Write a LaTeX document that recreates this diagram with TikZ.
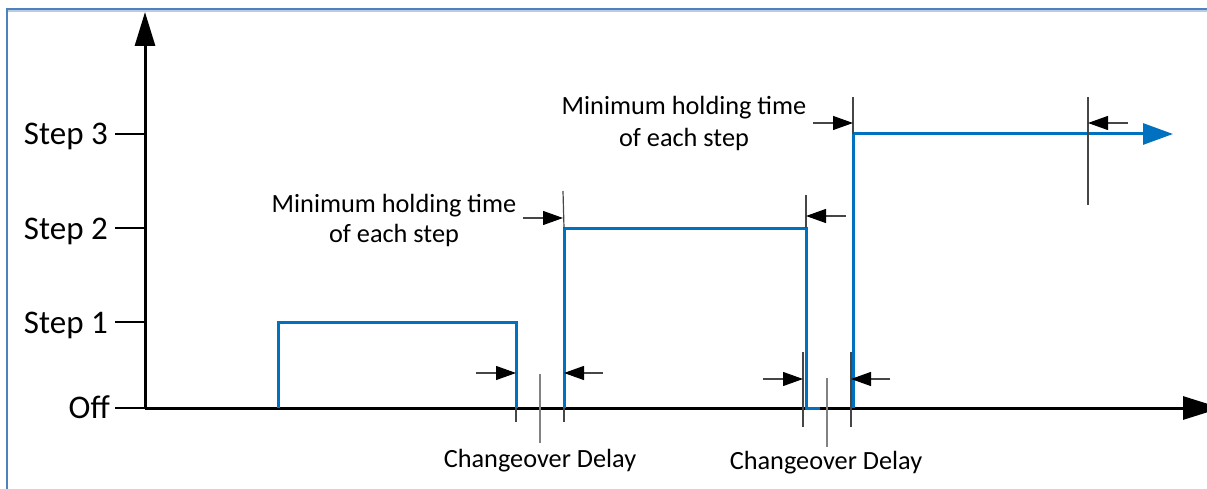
\documentclass[tikz,border=0pt]{standalone}
\usepackage{fontspec}
\setmainfont{Carlito}
\usetikzlibrary{arrows.meta}
\definecolor{frameblue}{RGB}{79,129,189}
\definecolor{framelight}{RGB}{184,204,228}
\definecolor{signal}{RGB}{0,112,192}
\definecolor{dimgray}{RGB}{70,70,70}
\definecolor{midgray}{RGB}{130,130,130}

\begin{document}
\begin{tikzpicture}[x=1pt,y=-1pt,
  axisline/.style={line width=3pt},
  tickline/.style={line width=2pt},
  signalline/.style={signal, line width=3pt},
  extline/.style={dimgray, line width=1.2pt},
  midline/.style={midgray, line width=1.5pt},
  dimarrow/.style={dimgray, line width=1.2pt,
    -{Triangle[length=20pt,width=14pt,color=black]}},
  levellabel/.style={font=\fontsize{33}{38}\selectfont, anchor=base east, inner sep=0pt},
  note/.style={font=\fontsize{26.3}{31}\selectfont, anchor=base, inner sep=0pt},
]
\useasboundingbox (0,0) rectangle (1207,489);

% frame
\draw[framelight, line width=1.5pt] (8,11) -- (1207,11);
\draw[frameblue, line width=2pt] (7,489) -- (7,9) -- (1207,9);

% axes
\coordinate (O) at (145,408);
\coordinate (ytop) at (145,12);
\coordinate (xend) at (1221,408);
\draw[axisline, -{Triangle[length=34pt,width=20pt]}] (O) -- (ytop);
\draw[axisline, -{Triangle[length=38pt,width=23pt]}] (O) -- (xend);

% level ticks and labels
\coordinate (s0) at (145,408);
\coordinate (s1) at (145,322);
\coordinate (s2) at (145,228);
\coordinate (s3) at (145,134);
\foreach \s in {s0,s1,s2,s3}
  \draw[tickline] (\s) -- ++(-30,0);
\node[levellabel] (loff) at (110,418) {Off};
\node[levellabel] (l1) at (108,333) {Step 1};
\node[levellabel] (l2) at (108,239) {Step 2};
\node[levellabel] (l3) at (108,145) {Step 3};

% switching signal
\coordinate (a0) at (278,408);
\coordinate (a1) at (278,322);
\coordinate (a2) at (516,322);
\coordinate (a3) at (516,408);
\coordinate (b0) at (564,408);
\coordinate (b1) at (564,228);
\coordinate (b2) at (806,228);
\coordinate (b3) at (806,408);
\coordinate (b4) at (820,408);
\coordinate (c0) at (853,408);
\coordinate (c1) at (853,134);
\coordinate (c2) at (1173,134);
\draw[signalline] (a0) -- (a1) -- (a2) -- (a3);
\draw[signalline] (b0) -- (b1) -- (b2) -- (b3) -- (b4);
\draw[signalline, -{Triangle[length=30pt,width=21pt]}] (c0) -- (c1) -- (c2);

% first changeover delay
\coordinate (d1l) at (516,422);
\coordinate (d1r) at (564,422);
\coordinate (d1mt) at (540,374);
\coordinate (d1mb) at (540,443);
\coordinate (d1la) at (476,373);
\coordinate (d1lt) at (516,373);
\coordinate (d1ra) at (603,373);
\coordinate (d1rt) at (564,373);
\draw[extline] (a3) -- (d1l);
\draw[extline] (b0) -- (d1r);
\draw[midline] (d1mt) -- (d1mb);
\draw[dimarrow] (d1la) -- (d1lt);
\draw[dimarrow] (d1ra) -- (d1rt);
\node[note] (cd1) at (540,467) {Changeover Delay};

% second changeover delay
\coordinate (d2lt0) at (803,352);
\coordinate (d2lb0) at (803,427);
\coordinate (d2rt0) at (851,352);
\coordinate (d2rb0) at (851,427);
\coordinate (d2mt) at (827,378);
\coordinate (d2mb) at (827,447);
\coordinate (d2la) at (763,379);
\coordinate (d2lt) at (803,379);
\coordinate (d2ra) at (890,379);
\coordinate (d2rt) at (851,379);
\draw[extline] (d2lt0) -- (d2lb0);
\draw[extline] (d2rt0) -- (d2rb0);
\draw[midline] (d2mt) -- (d2mb);
\draw[dimarrow] (d2la) -- (d2lt);
\draw[dimarrow] (d2ra) -- (d2rt);
\node[note] (cd2) at (826,469) {Changeover Delay};

% minimum holding time of step 2
\coordinate (h1l) at (563,191);
\coordinate (h1r) at (806,195);
\coordinate (h1la) at (523,218);
\coordinate (h1lt) at (563,218);
\coordinate (h1ra) at (846,216);
\coordinate (h1rt) at (806,216);
\draw[extline] (h1l) -- (b1);
\draw[extline] (h1r) -- (b2);
\draw[dimarrow] (h1la) -- (h1lt);
\draw[dimarrow] (h1ra) -- (h1rt);
\node[note] (mh1a) at (394,212) {Minimum holding time};
\node[note] (mh1b) at (394,243) {of each step};

% minimum holding time of step 3
\coordinate (h2l) at (853,97);
\coordinate (h2r) at (1088,97);
\coordinate (h2rb) at (1088,205);
\coordinate (h2la) at (813,123);
\coordinate (h2lt) at (853,123);
\coordinate (h2ra) at (1128,123);
\coordinate (h2rt) at (1088,123);
\draw[extline] (h2l) -- (c1);
\draw[extline] (h2r) -- (h2rb);
\draw[dimarrow] (h2la) -- (h2lt);
\draw[dimarrow] (h2ra) -- (h2rt);
\node[note] (mh2a) at (684,115) {Minimum holding time};
\node[note] (mh2b) at (684,147) {of each step};
\end{tikzpicture}
\end{document}
